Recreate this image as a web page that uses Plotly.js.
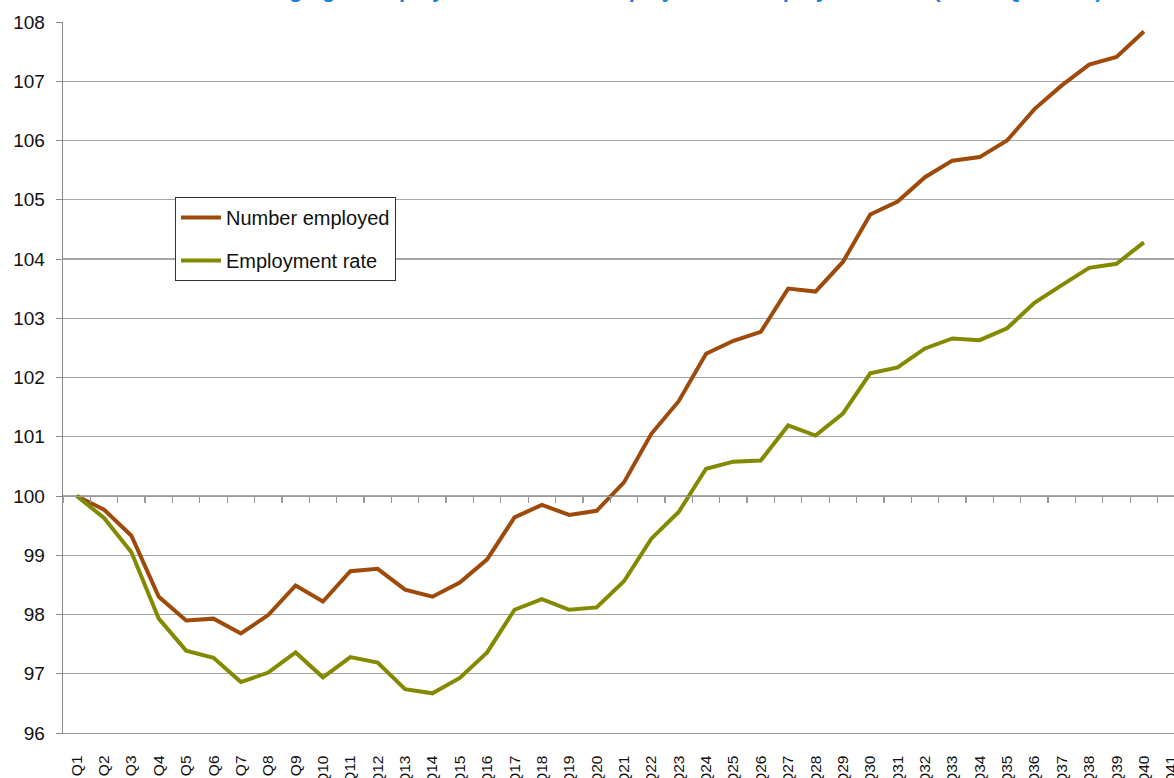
<!DOCTYPE html>
<html>
<head>
<meta charset="utf-8">
<script src="https://cdn.plot.ly/plotly-3.0.1.min.js"></script>
<style>html,body{margin:0;padding:0;background:#fff;overflow:hidden}#chart{width:1174px;height:778px}</style>
</head>
<body>
<div id="chart"></div>
<script>
const quarters = ["Q1","Q2","Q3","Q4","Q5","Q6","Q7","Q8","Q9","Q10","Q11","Q12","Q13","Q14","Q15","Q16","Q17","Q18","Q19","Q20","Q21","Q22","Q23","Q24","Q25","Q26","Q27","Q28","Q29","Q30","Q31","Q32","Q33","Q34","Q35","Q36","Q37","Q38","Q39","Q40","Q41"];
const numberEmployed = [100,99.77,99.33,98.3,97.9,97.93,97.68,97.99,98.49,98.22,98.73,98.77,98.42,98.3,98.54,98.93,99.64,99.85,99.68,99.75,100.23,101.05,101.6,102.4,102.62,102.77,103.5,103.45,103.95,104.75,104.97,105.38,105.66,105.72,106.0,106.53,106.93,107.28,107.41,107.84];
const employmentRate = [100,99.63,99.05,97.93,97.39,97.27,96.86,97.02,97.36,96.94,97.28,97.19,96.74,96.67,96.93,97.36,98.08,98.26,98.08,98.12,98.56,99.28,99.73,100.46,100.58,100.6,101.19,101.02,101.39,102.07,102.17,102.49,102.66,102.63,102.83,103.26,103.56,103.85,103.92,104.28];
const seriesNames = ["Number employed","Employment rate"];
const titleText = "Changing in employment: number employed and employment rate (index Q1 = 100)";

const FONT = "Liberation Sans, Arial, Helvetica, sans-serif";
const xRange = [-0.5, 40.1];

const traces = [
  {x: quarters.slice(0, numberEmployed.length), y: numberEmployed, name: seriesNames[0], type: "scatter", mode: "lines",
   line: {color: "#9E4A0B", width: 4}, legendgroup: "a", xaxis: "x", yaxis: "y"},
  {x: quarters.slice(0, employmentRate.length), y: employmentRate, name: seriesNames[1], type: "scatter", mode: "lines",
   line: {color: "#838A00", width: 4}, legendgroup: "b", xaxis: "x", yaxis: "y"},
  {x: quarters, y: quarters.map(() => null), type: "scatter", mode: "lines", showlegend: false, hoverinfo: "skip",
   xaxis: "x2", yaxis: "y"}
];

const layout = {
  width: 1174, height: 778,
  margin: {l: 63, r: 0, t: 22, b: 45, pad: 0},
  paper_bgcolor: "#ffffff", plot_bgcolor: "#ffffff",
  font: {family: FONT, size: 17, color: "#111"},
  showlegend: true,
  legend: {x: 0.1008, y: 0.754, xanchor: "left", yanchor: "top", bgcolor: "#ffffff", bordercolor: "#333", borderwidth: 1,
           font: {family: FONT, size: 20, color: "#111"}, tracegroupgap: 14, traceorder: "grouped",
           itemwidth: 40},
  xaxis: {type: "category", categoryorder: "array", categoryarray: quarters, range: xRange,
          showgrid: false, zeroline: false, showline: true, linecolor: "#9a9a9a", linewidth: 1.3,
          ticks: "", tickangle: -90, ticklabelstandoff: 15, tickfont: {family: FONT, size: 15.5, color: "#111"}, automargin: false},
  xaxis2: {type: "category", categoryorder: "array", categoryarray: quarters, range: xRange, overlaying: "x",
           anchor: "free", position: 4/12, side: "bottom", showgrid: false, zeroline: false,
           showline: true, linecolor: "#9a9a9a", linewidth: 1.3, ticks: "outside", tickson: "boundaries",
           ticklen: 6, tickcolor: "#9a9a9a", tickwidth: 1.3, showticklabels: false},
  yaxis: {range: [96, 108], dtick: 1, tick0: 96, showgrid: true, gridcolor: "#a6a6a6", gridwidth: 1.3,
          zeroline: false, showline: true, linecolor: "#8a8a8a", linewidth: 1.3, ticks: "outside", ticklen: 6,
          tickcolor: "#8a8a8a", tickfont: {family: FONT, size: 19, color: "#111"}, ticklabelstandoff: 7, automargin: false},
  annotations: [{text: "<b>" + titleText + "</b>", xref: "paper", yref: "paper", x: 0.5446, y: (733 - 3.5) / 711,
                 xanchor: "center", yanchor: "bottom", showarrow: false, font: {family: FONT, size: 22, color: "#1F7ED6"}}]
};

Plotly.newPlot("chart", traces, layout, {displayModeBar: false, staticPlot: true});
</script>
</body>
</html>
